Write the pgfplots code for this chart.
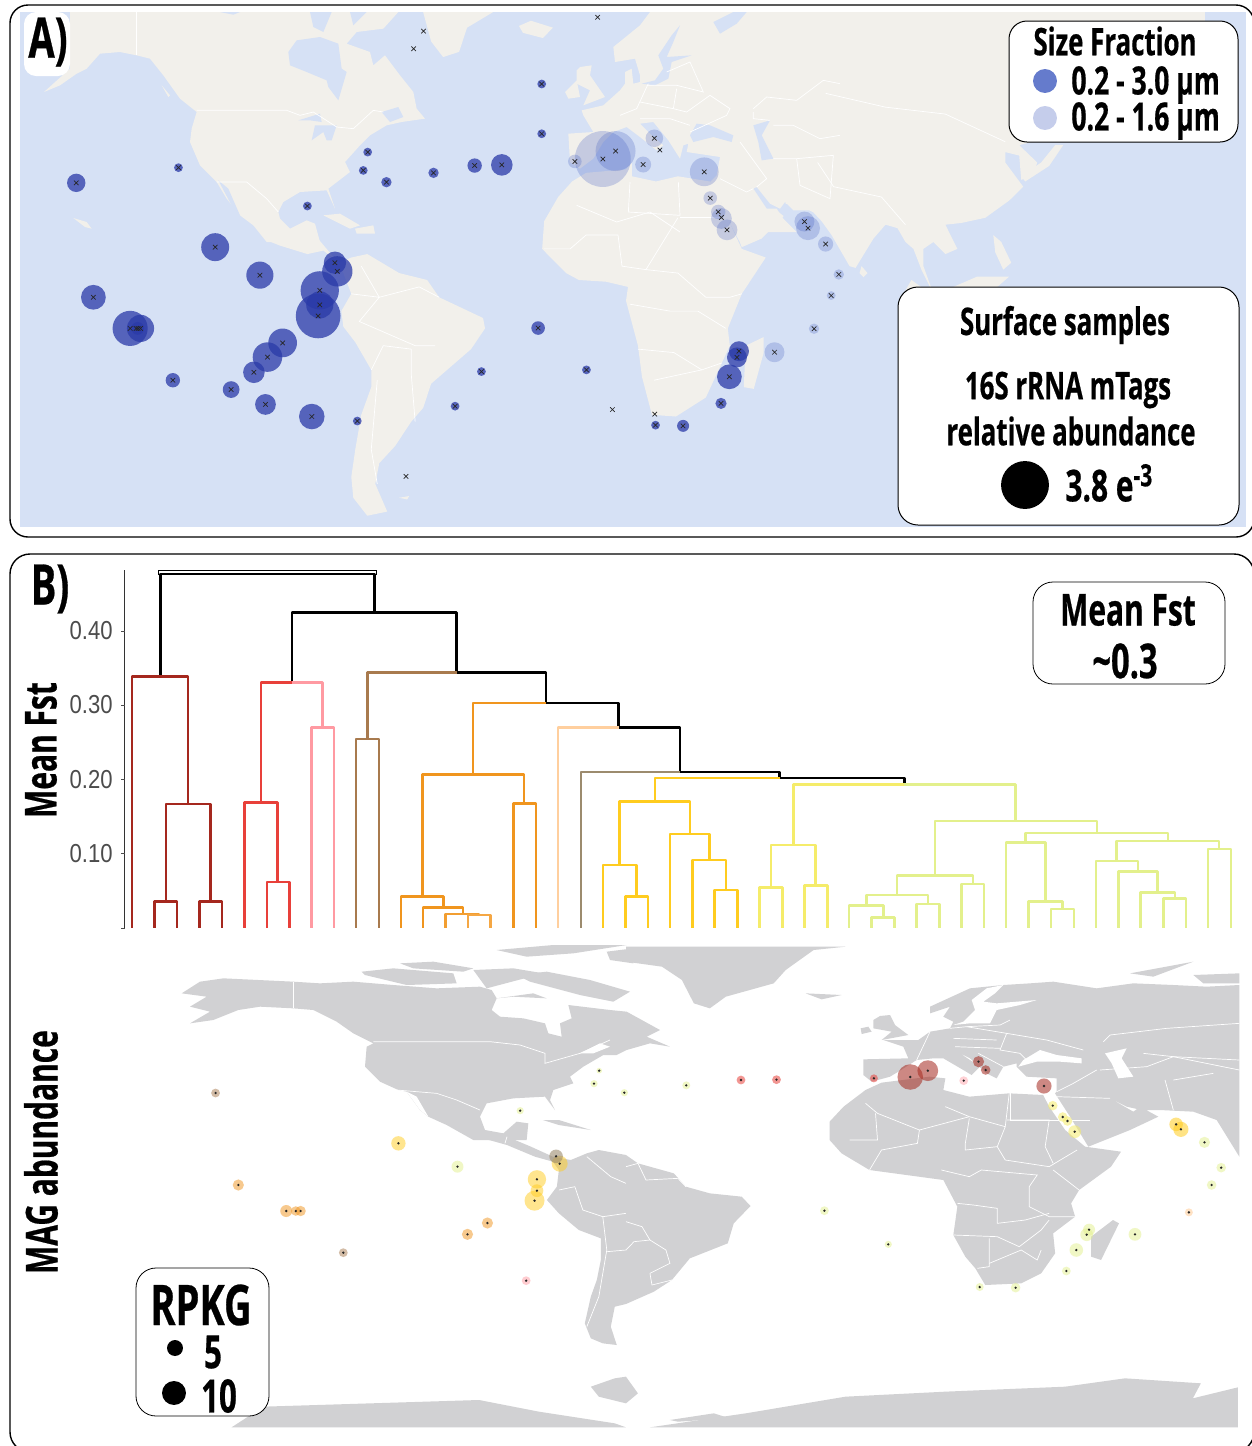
\documentclass[border=0pt]{standalone}
\usepackage{pgfplots}
\usepackage{fontspec}
\pgfplotsset{compat=1.18}
\setmainfont{Liberation Sans}
\newfontfamily\cond{Open Sans}[FakeStretch=0.68,BoldFeatures={FakeBold=0.5}]
\newfontfamily\tickf{Liberation Sans}[FakeStretch=0.85]
\newcommand\T[1]{\fontsize{#1}{#1}\selectfont\cond\bfseries}
\pgfdeclareplotmark{fillc}{\pgfpathcircle{\pgfpointorigin}{\pgfplotmarksize}\pgfusepathqfill}
\tikzset{every node/.append style={inner sep=0pt}}
\definecolor{seaA}{HTML}{D6E1F5}
\definecolor{landA}{HTML}{F2F0EB}
\definecolor{landB}{HTML}{D1D1D3}
\definecolor{dkblue}{HTML}{2A3AA8}
\definecolor{ltblue}{HTML}{3F5BC0}
\definecolor{cDR}{HTML}{A5281E}
\definecolor{cR}{HTML}{E8403A}
\definecolor{cP}{HTML}{FF9AA2}
\definecolor{cBr}{HTML}{A87A4E}
\definecolor{cO}{HTML}{F0951E}
\definecolor{cLO}{HTML}{FFCF9E}
\definecolor{cTa}{HTML}{9C8B6E}
\definecolor{cG}{HTML}{FFCC1F}
\definecolor{cY}{HTML}{F5EC6A}
\definecolor{cYG}{HTML}{E3F08C}
\pgfplotsset{
  mA/.style={x filter/.expression={x/2.505},y filter/.expression={y/2.893}},
  mAr/.style={x filter/.expression={626+x/2.505},y filter/.expression={y/2.893}},
  mB/.style={x filter/.expression={x/2.505},y filter/.expression={930+y/3}},
  mBr/.style={x filter/.expression={626+x/2.505},y filter/.expression={930+y/3}},
  dL/.style={x filter/.expression={x/2.505},y filter/.expression={555+y/3}},
  dR/.style={x filter/.expression={626+x/2.505},y filter/.expression={555+y/3}},
  cA4/.style={x filter/.expression={20+x/3},y filter/.expression={12+y/3}},
  cA1/.style={x filter/.expression={540+x/3},y filter/.expression={12+y/3}},
  cB2/.style={x filter/.expression={840+x/3},y filter/.expression={960+y/3}},
  cB3/.style={x filter/.expression={180+x/3},y filter/.expression={940+y/3}},
  la/.style={fill=landA,draw=none,forget plot},
  wa/.style={fill=seaA,draw=none,forget plot},
  lb/.style={fill=landB,draw=none,forget plot},
  wb/.style={fill=white,draw=none,forget plot},
  bd/.style={draw=white,line width=.35pt,forget plot},
  bub/.style 2 args={scatter,only marks,mark=fillc,scatter src=x,forget plot,
    visualization depends on={\thisrow{r}*0.1996 \as \rad},
    scatter/use mapped color={fill=#1,fill opacity=#2},
    scatter/@pre marker code/.append style={/tikz/mark size=\rad}},
  crs/.style={only marks,mark=x,mark size=1.6pt,forget plot,mark options={draw=black!85,line width=.35pt}},
  dot/.style={only marks,mark=fillc,mark size=.65pt,forget plot,mark options={fill=black!85}},
  den/.style={line width=1.3pt,forget plot,line join=round},
}
\newcommand\U[6]{\addplot[den,#1] coordinates {(#2,#3)(#2,#4)(#5,#4)(#5,#6)};}
\begin{document}
\begin{tikzpicture}
\path[use as bounding box] (0,0) rectangle (626pt,723pt);
\clip (0,0) rectangle (626pt,723pt);
\begin{axis}[at={(0,0)},anchor=south west,scale only axis,width=626pt,height=723pt,
  xmin=0,xmax=1252,ymin=0,ymax=1446,y dir=reverse,hide axis,clip=false]

% panel frames
\draw[fill=white,line width=.7pt,rounded corners=9pt] (axis cs:10,5) rectangle (axis cs:1254,537);
\draw[fill=white,line width=.7pt,rounded corners=10pt] (axis cs:10,554) rectangle (axis cs:1254,1452);
\addplot[fill=seaA,draw=none,forget plot] coordinates {(20,12)(1246,12)(1246,527)(20,527)} --cycle;

%% MAP A
% North America
\addplot[la,cA4] coordinates {(72,240)(120,220)(170,185)(200,170)(240,125)(300,120)(350,130)(390,140)(430,190)(480,260)(530,300)(515,350)(510,390)(540,460)(590,510)(620,560)(660,610)(700,640)(740,690)(900,690)(885,635)(860,625)(810,650)(780,620)(775,600)(790,570)(840,540)(920,535)(945,590)(925,530)(990,480)(975,450)(1020,400)(1050,370)(1100,340)(1145,330)(1215,320)(1190,290)(1180,240)(1140,190)(1095,130)(1060,160)(1050,120)(980,95)(1010,60)(1090,50)(1135,0)(150,0)(150,170)} --cycle;
\addplot[wa,cA4] coordinates {(810,160)(805,120)(830,85)(900,75)(955,95)(965,170)(980,180)(955,265)(925,225)(920,205)(860,180)} --cycle;
\addplot[wa,cA4] coordinates {(870,0)(935,0)(910,60)(880,45)} --cycle;
\addplot[wa,cA4] coordinates {(990,0)(1040,0)(1000,40)} --cycle;
\addplot[wa,cA4] coordinates {(600,0)(660,0)(640,8)} --cycle;
\addplot[wa,cA4] coordinates {(835,325)(900,305)(905,330)(870,325)} --cycle;
\addplot[wa,cA4] coordinates {(875,385)(885,340)(950,340)(935,385)(920,385)(910,360)} --cycle;
\addplot[wa,cA4] coordinates {(1085,300)(1135,285)(1150,315)(1110,330)} --cycle;
\addplot[wa,cA4] coordinates {(595,505)(625,530)(660,610)(640,590)} --cycle;
\addplot[la,cA4] coordinates {(910,610)(960,605)(1020,640)(990,650)} --cycle;
\addplot[la,cA4] coordinates {(1005,650)(1060,640)(1065,665)(1010,665)} --cycle;
\addplot[la,cA4] coordinates {(160,618)(200,630)(215,650)(195,645)} --cycle;
\addplot[la,cA4] coordinates {(425,220)(450,250)(445,255)} --cycle;
% Central and South America
\addplot[la,mA] coordinates {(668,695)(700,710)(770,735)(810,725)(850,760)(880,745)(920,735)(1000,790)(1070,810)(1100,860)(1210,920)(1215,950)(1180,1010)(1130,1060)(1080,1110)(1060,1180)(1030,1220)(990,1290)(950,1340)(940,1400)(970,1480)(920,1492)(885,1440)(880,1380)(890,1300)(905,1200)(930,1120)(930,1070)(890,990)(860,945)(855,900)(880,850)(860,790)(840,750)(800,695)} --cycle;
\addplot[la,mA] coordinates {(1060,35)(1235,35)(1170,80)(1150,150)(1110,165)(1080,120)} --cycle;
\addplot[la,mA] coordinates {(1300,75)(1330,60)(1385,80)(1360,110)(1310,95)} --cycle;
\addplot[la,mA] coordinates {(1000,1440)(1025,1435)(1020,1445)} --cycle;
% Europe, west Asia
\addplot[la,cA1] coordinates {(330,0)(300,40)(220,105)(225,150)(285,140)(300,190)(300,210)(280,215)(275,170)(255,180)(255,215)(240,235)(190,280)(125,295)(130,310)(160,360)(85,365)(90,450)(120,470)(160,440)(190,390)(220,360)(260,345)(300,375)(350,415)(370,400)(340,375)(300,335)(340,330)(385,385)(420,440)(430,400)(445,395)(440,420)(540,435)(530,490)(510,510)(570,620)(600,660)(770,660)(730,620)(710,590)(680,590)(640,530)(650,525)(690,575)(720,590)(735,570)(760,595)(840,595)(885,625)(900,660)(900,0)} --cycle;
\addplot[wa,cA1] coordinates {(520,30)(580,0)(620,0)(590,35)(540,65)} --cycle;
\addplot[wa,cA1] coordinates {(855,20)(900,0)(880,30)} --cycle;
\addplot[wa,cA1] coordinates {(450,370)(470,335)(510,340)(580,370)(575,390)(520,375)(460,390)} --cycle;
\addplot[wa,cA1] coordinates {(640,340)(690,325)(665,370)(700,440)(665,445)(655,390)} --cycle;
\addplot[wa,cA1] coordinates {(305,215)(345,205)(370,170)(355,130)(395,70)(420,40)(400,90)(380,135)(455,130)(395,150)(385,200)(345,220)} --cycle;
\addplot[la,cA1] coordinates {(110,175)(120,165)(155,160)(150,190)(195,255)(130,280)(150,235)(110,215)} --cycle;
\addplot[la,cA1] coordinates {(75,240)(110,205)(120,255)(85,260)} --cycle;
% Asia
\addplot[la,mAr] coordinates {(500,35)(1450,35)(1450,80)(1300,250)(1120,250)(1050,400)(985,420)(1030,470)(1020,510)(990,520)(985,450)(950,440)(950,470)(995,540)(960,580)(900,630)(840,645)(800,650)(830,720)(800,735)(770,700)(745,720)(745,770)(770,850)(740,780)(720,720)(700,700)(680,660)(650,650)(620,690)(575,775)(560,770)(515,680)(490,640)(470,615)(430,590)(400,590)(400,400)} --cycle;
\addplot[la,mAr] coordinates {(235,590)(285,700)(290,715)(340,690)(395,625)(378,610)(350,610)(320,560)} --cycle;
% Africa
\addplot[la,mAr] coordinates {(-135,525)(-100,500)(0,490)(15,470)(15,510)(75,525)(130,510)(210,525)(225,545)(250,620)(290,720)(350,745)(290,850)(255,950)(260,1000)(240,1050)(200,1150)(125,1205)(65,1200)(40,1090)(30,1000)(0,870)(5,830)(-50,815)(-118,810)(-150,790)(-210,720)(-205,640)(-170,570)} --cycle;
\addplot[la,mAr] coordinates {(345,975)(300,1000)(295,1120)(320,1125)(345,1020)} --cycle;
\addplot[la,mAr] coordinates {(590,770)(605,790)(595,802)(585,790)} --cycle;
\addplot[la,mAr] coordinates {(1000,525)(1060,480)(1095,420)(1075,420)(1040,470)(990,510)} --cycle;
\addplot[la,mAr] coordinates {(920,680)(940,700)(965,760)(945,780)(925,730)} --cycle;
\addplot[la,mAr] coordinates {(715,810)(775,860)(690,860)} --cycle;
\addplot[la,mAr] coordinates {(820,830)(880,800)(960,800)(900,860)(820,860)} --cycle;
% borders A
\addplot[bd,cA4] coordinates {(350,0)(350,130)};
\addplot[bd,cA4] coordinates {(530,295)(800,295)(840,310)(880,300)(950,345)(1000,350)(1060,295)(1090,300)};
\addplot[bd,cA4] coordinates {(590,510)(680,510)(740,560)(775,600)};
\addplot[bd,mA] coordinates {(905,770)(950,860)(1050,830)(1100,860)};
\addplot[bd,mA] coordinates {(880,850)(950,860)(900,930)(960,960)(1040,1000)(1090,1000)};
\addplot[bd,mA] coordinates {(930,1070)(960,1000)(1030,1010)(1030,1080)(1040,1220)};
\addplot[bd,mA] coordinates {(945,1100)(930,1300)(945,1400)};
\addplot[bd,cA1] coordinates {(240,310)(290,290)(320,225)(325,215)};
\addplot[bd,cA1] coordinates {(300,270)(400,290)(440,300)(510,250)(570,290)(560,310)(450,360)};
\addplot[bd,cA1] coordinates {(320,220)(410,220)(490,240)(450,150)(380,180)};
\addplot[bd,cA1] coordinates {(400,290)(410,230)};
\addplot[bd,cA1] coordinates {(300,320)(390,320)(450,340)};
\addplot[bd,cA1] coordinates {(640,290)(680,255)(770,265)(850,205)(900,215)};
\addplot[bd,cA1] coordinates {(640,300)(640,320)(690,325)};
\addplot[bd,cA1] coordinates {(700,340)(760,340)(840,380)(900,370)};
\addplot[bd,cA1] coordinates {(700,440)(770,440)(880,430)(870,560)(780,520)(770,440)};
\addplot[bd,cA1] coordinates {(600,390)(680,500)(650,525)};
\addplot[bd,cA1] coordinates {(540,500)(620,540)(640,530)};
\addplot[bd,cA1] coordinates {(270,510)(265,600)(420,610)(415,510)};
\addplot[bd,cA1] coordinates {(110,580)(230,630)(330,600)(420,660)};
\addplot[bd,mAr] coordinates {(-205,720)(-140,720)(-100,680)(-20,680)(-10,770)(50,780)(130,630)};
\addplot[bd,mAr] coordinates {(135,630)(240,630)};
\addplot[bd,mAr] coordinates {(50,780)(130,790)(200,860)(260,860)(290,850)};
\addplot[bd,mAr] coordinates {(10,880)(110,900)(180,900)(250,950)};
\addplot[bd,mAr] coordinates {(30,1010)(120,1020)(190,1070)(240,1050)};
\addplot[bd,mAr] coordinates {(70,1100)(150,1080)(190,1070)};
\addplot[bd,mAr] coordinates {(500,270)(650,310)(800,330)(950,410)};
\addplot[bd,mAr] coordinates {(480,470)(520,540)(640,570)(700,650)};

% bubbles A
\addplot[bub={dkblue}{0.75},mA] table[row sep=\\]{x y r\\
191 529 23\\ 447 485 11\\ 539 715 35\\ 651 796 34\\ 234 860 31\\ 326 950 44\\ 352 950 34\\ 345 950 16\\
839 760 28\\ 845 785 38\\ 801 840 48\\ 801 882 34\\ 797 914 56\\ 708 992 36\\ 670 1033 37\\ 636 1077 27\\
433 1100 18\\ 579 1127 21\\ 665 1170 26\\ 781 1205 32\\ 895 1218 11\\ 1140 1175 11\\ 1206 1075 11\\ 1348 949 17\\
1469 1070 11\\ 770 596 11\\ 921 440 11\\ 910 493 11\\ 968 527 13\\ 1086 500 13\\ 1189 479 18\\ 1257 477 27\\
1357 243 11\\ 1357 387 11\\};
\addplot[bub={dkblue}{0.75},mAr] table[row sep=\\]{x y r\\
283 1016 25\\ 278 1034 25\\ 259 1090 31\\ 238 1167 14\\ 74 1230 11\\ 143 1232 15\\};
\addplot[bub={ltblue}{0.25},mA] table[row sep=\\]{x y r\\
1440 467 17\\ 1510 460 70\\ 1542 437 50\\};
\addplot[bub={ltblue}{0.25},mAr] table[row sep=\\]{x y r\\
71 400 22\\ 85 434 4\\ 43 476 20\\ 196 497 36\\ 211 573 17\\ 231 613 18\\ 239 632 26\\ 253 665 26\\
447 641 25\\ 456 660 30\\ 500 706 19\\ 533 794 13\\ 514 855 11\\ 471 951 13\\ 372 1019 25\\};
\addplot[crs,mA] coordinates {(191,529)(447,485)(539,715)(651,796)(234,860)(326,950)(352,950)(341,950)(346,950)
(839,760)(845,785)(801,840)(801,882)(797,914)(708,992)(670,1033)(636,1077)(433,1100)(579,1127)(665,1170)(781,1205)(895,1218)(1140,1175)(1206,1075)(1348,949)(1469,1070)(770,596)(921,440)(910,493)(968,527)(1086,500)(1189,479)(1257,477)(1357,243)(1357,387)(1440,467)(1510,460)(1542,437)(1497,50)(1061,90)(1036,141)(1017,1378)(1534,1185)};
\addplot[crs,mAr] coordinates {(283,1016)(278,1034)(259,1090)(238,1167)(74,1230)(143,1232)(72,1198)(71,400)(85,434)(43,476)(196,497)(211,573)(231,613)(239,629)(253,665)(447,641)(456,660)(500,706)(533,794)(514,855)(471,951)(372,1019)};

% A labels
\draw[fill=white,draw=none,rounded corners=6pt] (axis cs:24,12) rectangle (axis cs:70,76);
\node at (axis cs:48,42) {\T{28}A)};
\draw[fill=white,line width=.5pt,rounded corners=9pt] (axis cs:1009,21) rectangle (axis cs:1238,142);
\node at (axis cs:1115,41) {\T{19}Size Fraction};
\node[anchor=west] at (axis cs:1071,85) {\T{19.5}0.2 - 3.0 µm};
\node[anchor=west] at (axis cs:1071,121) {\T{19.5}0.2 - 1.6 µm};
\addplot[bub={ltblue}{0.8},forget plot] table[row sep=\\]{x y r\\ 1045 81 30\\};
\addplot[bub={ltblue}{0.3},forget plot] table[row sep=\\]{x y r\\ 1045 118 30\\};
\draw[fill=white,line width=.5pt,rounded corners=10pt] (axis cs:898,287) rectangle (axis cs:1239,525);
\node at (axis cs:1065,325) {\T{19}Surface samples};
\node at (axis cs:1068,390) {\T{19}16S rRNA mTags};
\node at (axis cs:1071,431) {\T{19}relative abundance};
\addplot[bub={black}{1},forget plot] table[row sep=\\]{x y r\\ 1025 485 60\\};
\node[anchor=west] at (axis cs:1065,483) {\T{22}3.8 e\textsuperscript{-3}};

%% DENDROGRAM
\node at (axis cs:50,589) {\T{28}B)};
\addplot[forget plot,draw=black!80,line width=.3pt] coordinates {(124.5,570)(124.5,928)};
\addplot[forget plot,draw=black!70,line width=.3pt] coordinates {(121,631)(124.5,631)};
\addplot[forget plot,draw=black!70,line width=.3pt] coordinates {(121,705)(124.5,705)};
\addplot[forget plot,draw=black!70,line width=.3pt] coordinates {(121,779)(124.5,779)};
\addplot[forget plot,draw=black!70,line width=.3pt] coordinates {(121,853)(124.5,853)};
\addplot[forget plot,draw=black!70,line width=.3pt] coordinates {(121,928)(124.5,928)};
\node[anchor=east,text=black!70] at (axis cs:113,631) {\fontsize{13}{13}\selectfont\tickf 0.40};
\node[anchor=east,text=black!70] at (axis cs:113,705) {\fontsize{13}{13}\selectfont\tickf 0.30};
\node[anchor=east,text=black!70] at (axis cs:113,780) {\fontsize{13}{13}\selectfont\tickf 0.20};
\node[anchor=east,text=black!70] at (axis cs:113,854) {\fontsize{13}{13}\selectfont\tickf 0.10};
\node[rotate=90] at (axis cs:41,750) {\T{22}Mean Fst};
\node[rotate=90] at (axis cs:41,1152) {\T{22}MAG abundance};

\addplot[forget plot,draw=black,line width=.5pt,dL] coordinates {(397,60)(397,47)(942,47)(942,60)};
\U{black,line width=1.45pt,dL}{401}{365}{57}{938}{170}
\U{black,dL}{731}{382}{172}{1144}{352}
\U{cDR,dL}{331}{1118}{365}{471}{747}
\U{cDR,dL}{416}{1038}{747}{527}{1038}
\U{cDR,dL}{387}{1118}{1040}{443}{1118}
\U{cDR,dL}{499}{1118}{1040}{556}{1118}
\U{cP,dL}{731}{382}{382}{808}{517}
\U{cR,dL}{731}{382}{382}{654}{743}
\U{cR,dL}{613}{1118}{743}{695}{980}
\U{cR,dL}{669}{1118}{981}{725}{1118}
\U{cP,dL}{780}{1118}{517}{837}{1118}
\U{cBr,dL}{1144}{352}{352}{921}{552}
\U{cBr,dL}{892}{1118}{552}{949}{1118}
\U{black,dL}{1144}{352}{352}{1368}{444}
\addplot[den,black,dL] coordinates {(1368,444)(1550,444)(1550,518)(1568,518)};
\addplot[den,black,dR] coordinates {(0,518)(135,518)(135,651)(385,651)(385,669)(697,669)(697,689)};
\U{cO,dL}{1368}{444}{444}{1185}{658}
\U{cO,dL}{1058}{1024}{658}{1313}{745}
\U{cO,dL}{1286}{1118}{745}{1343}{1118}
\U{cO,dL}{1004}{1118}{1024}{1111}{1058}
\U{cO,dL}{1060}{1118}{1058}{1160}{1077}
\U{cO!85!cLO,dL}{1116}{1118}{1077}{1200}{1080}
\U{cO!70!cLO,dL}{1172}{1118}{1080}{1229}{1118}
\addplot[den,cLO,dL] coordinates {(1550,518)(1398,518)(1398,1118)};
\addplot[den,cTa,dR] coordinates {(135,651)(-113,651)(-113,1118)};
\U{cG,dR}{385}{669}{669}{73}{740}
\U{cG,dR}{-16}{930}{740}{160}{837}
\U{cG,dR}{-58}{1118}{930}{27}{1022}
\U{cG,dR}{-2}{1118}{1024}{55}{1118}
\U{cG,dR}{110}{1118}{837}{209}{915}
\U{cG,dR}{166}{1118}{915}{250}{1005}
\U{cG,dR}{222}{1118}{1005}{280}{1118}
\U{cY,dR}{697}{689}{689}{419}{870}
\U{cY,dR}{363}{997}{870}{475}{992}
\U{cY,dR}{334}{1118}{997}{392}{1118}
\U{cY,dR}{447}{1118}{992}{504}{1118}
\U{cYG,dR}{697}{689}{689}{976}{798}
\U{cYG,dR}{774}{962}{798}{1180}{834}
\U{cYG,dR}{679}{1020}{962}{869}{987}
\U{cYG,dR}{602}{1052}{1020}{756}{1046}
\U{cYG,dR}{559}{1118}{1052}{645}{1088}
\U{cYG,dR}{615}{1118}{1088}{673}{1118}
\U{cYG,dR}{727}{1118}{1047}{785}{1118}
\U{cYG,dR}{840}{1118}{987}{897}{1118}
\U{cYG,dR}{1000}{860}{834}{1358}{858}
\U{cYG,dR}{952}{1118}{862}{1051}{1040}
\U{cYG,dR}{1008}{1118}{1040}{1094}{1060}
\U{cYG,dR}{1065}{1118}{1062}{1122}{1118}
\U{cYG,dR}{1229}{918}{858}{1485}{882}
\U{cYG,dR}{1177}{1118}{918}{1283}{950}
\U{cYG,dR}{1233}{1118}{950}{1332}{1012}
\U{cYG,dR}{1289}{1118}{1012}{1375}{1031}
\U{cYG,dR}{1346}{1118}{1031}{1403}{1118}
\U{cYG,dR}{1458}{1118}{882}{1515}{1118}

\draw[fill=white,line width=.4pt,rounded corners=10pt] (axis cs:1033,582) rectangle (axis cs:1225,684);
\node at (axis cs:1128,610) {\T{22}Mean Fst};
\node at (axis cs:1125,661) {\T{24}\textasciitilde 0.3};

%% MAP B
% North America
\addplot[lb,cB3] coordinates {(5,160)(60,125)(130,115)(340,125)(420,130)(520,125)(640,135)(770,145)(900,140)(935,150)(950,175)(935,210)(960,230)(1030,235)(1095,250)(1105,280)(1145,290)(1140,250)(1175,235)(1165,195)(1290,210)(1340,215)(1440,270)(1400,290)(1470,320)(1410,310)(1340,330)(1310,345)(1270,345)(1210,380)(1170,410)(1180,430)(1120,450)(1110,480)(1125,510)(1095,470)(1000,475)(920,490)(900,530)(915,570)(970,580)(1010,545)(1045,550)(1040,600)(880,600)(800,555)(745,530)(720,510)(680,455)(655,450)(600,425)(555,380)(560,320)(580,310)(520,280)(470,245)(400,210)(340,205)(240,200)(175,210)(100,240)(30,250)(90,215)(30,200)(80,170)} --cycle;
\addplot[wb,cB3] coordinates {(680,455)(710,470)(745,530)(720,510)} --cycle;
\addplot[wb,cB3] coordinates {(1200,340)(1260,310)(1290,320)(1240,340)} --cycle;
\addplot[lb,cB3] coordinates {(545,95)(640,85)(820,100)(830,130)(680,135)(555,105)} --cycle;
\addplot[lb,cB3] coordinates {(660,70)(760,65)(880,85)(850,95)(700,85)} --cycle;
\addplot[lb,cB3] coordinates {(880,90)(1000,85)(1090,100)(920,145)} --cycle;
\addplot[lb,cB3] coordinates {(950,30)(1120,15)(1340,15)(1180,40)(1040,50)} --cycle;
\addplot[lb,cB3] coordinates {(1010,105)(1100,95)(1230,120)(1350,155)(1300,185)(1200,165)(1050,125)} --cycle;
\addplot[lb,cB3] coordinates {(1280,35)(1360,25)(1360,70)(1290,60)} --cycle;
\addplot[lb,cB3] coordinates {(950,175)(1060,160)(1100,175)(1000,170)} --cycle;
% Central and South America
\addplot[lb,mB] coordinates {(1200,615)(1310,615)(1290,630)(1330,650)(1385,680)(1430,690)(1470,670)(1500,660)(1568,675)(1598,700)(1628,710)(1688,730)(1718,770)(1778,790)(1858,800)(1880,828)(1838,880)(1823,940)(1728,985)(1683,1050)(1638,1085)(1568,1122)(1540,1130)(1530,1190)(1545,1245)(1510,1240)(1480,1225)(1465,1180)(1480,1100)(1495,1050)(1505,990)(1505,925)(1450,900)(1400,850)(1370,810)(1395,770)(1400,720)(1385,695)(1340,680)(1270,645)(1210,625)} --cycle;
\addplot[lb,mB] coordinates {(1360,570)(1400,570)(1480,600)(1400,585)} --cycle;
\addplot[lb,mBr] coordinates {(0,50)(550,50)(470,60)(400,120)(370,160)(250,200)(210,235)(170,220)(140,150)(90,110)(0,95)} --cycle;
\addplot[lb,mBr] coordinates {(450,190)(540,195)(490,208)} --cycle;
\addplot[lb,cB2] coordinates {(100,180)(120,168)(150,165)(165,195)(205,225)(125,240)(155,215)(100,205)} --cycle;
\addplot[lb,cB2] coordinates {(62,205)(85,200)(95,215)(65,222)} --cycle;
\addplot[lb,cB2] coordinates {(870,40)(1060,5)(940,50)} --cycle;
\addplot[lb,cB2] coordinates {(1060,45)(1198,40)(1198,70)(1090,70)} --cycle;
% Eurasia B
\addplot[lb,cB2] coordinates {(70,298)(70,345)(95,365)(150,350)(175,335)(230,300)(280,295)(310,295)(370,330)(395,345)(420,320)(360,280)(390,295)(440,340)(470,355)(490,320)(530,310)(530,320)(560,350)(650,355)(650,395)(645,400)(690,470)(745,560)(870,510)(955,470)(900,440)(880,455)(810,415)(860,440)(905,450)(960,450)(1060,455)(1130,480)(1198,590)(1198,75)(1100,80)(1000,75)(880,70)(770,85)(640,65)(570,70)(490,75)(390,85)(270,140)(270,160)(330,140)(310,170)(340,185)(330,205)(270,215)(235,240)(130,240)(190,260)(205,295)} --cycle;
\addplot[wb,cB2] coordinates {(340,195)(370,185)(405,150)(395,120)(440,85)(490,75)(465,100)(430,125)(470,130)(590,120)(540,135)(470,150)(450,190)(390,190)} --cycle;
\addplot[wb,cB2] coordinates {(550,300)(600,270)(650,285)(725,295)(725,310)(660,305)(590,305)(535,320)} --cycle;
\addplot[wb,cB2] coordinates {(795,280)(860,265)(845,295)(880,350)(835,355)(815,310)} --cycle;
% Africa B
\addplot[lb,mBr] coordinates {(510,575)(545,530)(600,480)(640,458)(760,440)(800,445)(795,480)(860,500)(960,490)(1045,495)(1060,530)(1100,600)(1150,650)(1240,665)(1215,710)(1135,780)(1115,820)(1125,860)(1070,910)(1075,970)(1040,1030)(990,1060)(900,1065)(875,1015)(850,980)(820,915)(830,830)(795,750)(610,720)(540,670)(510,630)} --cycle;
\addplot[lb,mBr] coordinates {(1235,880)(1220,870)(1165,920)(1165,980)(1190,990)} --cycle;
% Antarctica B
\addplot[lb,mB] coordinates {(580,1492)(660,1430)(1200,1410)(1350,1445)(1540,1480)(1568,1492)} --cycle;
\addplot[lb,mB] coordinates {(1480,1370)(1540,1345)(1568,1340)(1598,1390)(1568,1420)(1500,1400)} --cycle;
\addplot[lb,mBr] coordinates {(60,1492)(300,1450)(550,1400)(800,1385)(1100,1370)(1250,1345)(1440,1360)(1420,1405)(1533,1372)(1533,1492)} --cycle;
\addplot[lb,mBr] coordinates {(110,1470)(220,1450)(260,1465)(130,1475)} --cycle;
% borders B
\addplot[bd,cB3] coordinates {(340,125)(340,205)};
\addplot[bd,cB3] coordinates {(580,305)(930,305)(1020,315)(1095,340)(1095,370)(1200,340)(1290,300)};
\addplot[bd,cB3] coordinates {(650,450)(770,460)(830,480)(900,510)};
\addplot[bd,mB] coordinates {(1270,620)(1265,640)};
\addplot[bd,mB] coordinates {(1470,680)(1530,740)(1568,760)};
\addplot[bd,mB] coordinates {(1400,780)(1440,770)(1460,840)(1510,860)(1568,850)};
\addplot[bd,mB] coordinates {(1510,860)(1520,960)(1500,1100)(1470,1190)};
\addplot[bd,mBr] coordinates {(0,875)(40,890)(60,930)(20,935)(0,960)(-48,965)};
\addplot[bd,mBr] coordinates {(60,1030)(110,1000)(100,960)(60,930)};
\addplot[bd,mBr] coordinates {(60,1030)(65,1065)(115,1050)};
\addplot[bd,mBr] coordinates {(0,710)(30,700)(50,750)(130,745)(150,770)};
\addplot[bd,mBr] coordinates {(600,520)(630,550)(735,600)(860,560)(950,590)(960,490)};
\addplot[bd,mBr] coordinates {(625,550)(630,630)(560,630)};
\addplot[bd,mBr] coordinates {(735,600)(730,640)(640,660)(610,720)};
\addplot[bd,mBr] coordinates {(860,565)(850,640)(850,660)(930,650)(950,590)};
\addplot[bd,mBr] coordinates {(930,650)(950,690)(1060,710)(1130,660)};
\addplot[bd,mBr] coordinates {(800,530)(860,560)};
\addplot[bd,mBr] coordinates {(955,570)(1060,570)(1050,650)(1070,700)};
\addplot[bd,mBr] coordinates {(790,720)(860,740)(890,720)(1030,735)(1010,770)(1010,830)(1060,860)(1125,860)};
\addplot[bd,mBr] coordinates {(830,820)(870,825)(930,835)(930,880)(1000,870)(1060,850)};
\addplot[bd,mBr] coordinates {(820,915)(930,920)(985,950)(1040,900)(1060,870)};
\addplot[bd,mBr] coordinates {(910,925)(910,1010)(880,1015)};
\addplot[bd,mBr] coordinates {(910,1000)(990,960)(1030,990)(1040,960)};
\addplot[bd,mBr] coordinates {(1070,720)(1135,780)};
\addplot[bd,cB2] coordinates {(230,300)(270,215)};
\addplot[bd,cB2] coordinates {(330,205)(380,200)(480,195)(510,180)};
\addplot[bd,cB2] coordinates {(380,200)(500,220)(620,240)(730,270)};
\addplot[bd,cB2] coordinates {(500,220)(480,270)(540,280)(560,300)};
\addplot[bd,cB2] coordinates {(340,235)(470,240)};
\addplot[bd,cB2] coordinates {(345,260)(480,265)};
\addplot[bd,cB2] coordinates {(415,280)(490,320)};
\addplot[bd,cB2] coordinates {(790,245)(810,225)(980,205)(1198,190)};
\addplot[bd,cB2] coordinates {(780,330)(920,320)(1000,290)(1198,300)};
\addplot[bd,cB2] coordinates {(910,280)(1000,290)(1198,330)};
\addplot[bd,cB2] coordinates {(975,360)(1000,450)};
\addplot[bd,cB2] coordinates {(1000,360)(1120,340)};
\addplot[bd,cB2] coordinates {(650,395)(700,370)(770,330)};
\addplot[bd,cB2] coordinates {(510,400)(510,480)(750,480)};
\addplot[bd,cB2] coordinates {(650,410)(810,415)};

% bubbles B
\addplot[bub={cBr}{0.5},mB] table[row sep=\\]{x y r\\ 540 489 11\\ 860 968 11\\};
\addplot[bub={cO}{0.5},mB] table[row sep=\\]{x y r\\ 597 765 14\\ 717 843 15\\ 741 843 12\\ 753 843 13\\ 1221 879 14\\ 1171 913 14\\};
\addplot[bub={cG}{0.5},mB] table[row sep=\\]{x y r\\ 998 640 18\\ 1345 748 23\\ 1345 782 16\\ 1339 812 25\\ 1402 701 20\\};
\addplot[bub={cTa}{0.6},mB] table[row sep=\\]{x y r\\ 1393 679 17\\};
\addplot[bub={cYG}{0.5},mB] table[row sep=\\]{x y r\\ 1146 710 15\\ 1303 542 9\\ 1501 422 7\\ 1488 461 9\\ 1564 488 9\\};
\addplot[bub={cP}{0.5},mB] table[row sep=\\]{x y r\\ 1318 1052 11\\};
\addplot[bub={cYG}{0.5},mBr] table[row sep=\\]{x y r\\ 151 466 10\\ 497 842 11\\ 657 943 9\\ 886 1071 10\\ 976 1073 12\\ 1103 1023 11\\ 1128 960 17\\ 1160 899 15\\ 1154 914 16\\ 1275 913 16\\ 1449 637 14\\ 1491 713 12\\ 1467 765 12\\};
\addplot[bub={cDR}{0.55},mBr] table[row sep=\\]{x y r\\ 712 441 32\\ 756 422 26\\ 883 395 14\\ 901 420 12\\ 1047 468 19\\};
\addplot[bub={cR}{0.55},mBr] table[row sep=\\]{x y r\\ 288 450 11\\ 377 449 11\\ 621 445 10\\};
\addplot[bub={cP}{0.45},mBr] table[row sep=\\]{x y r\\ 846 452 11\\};
\addplot[bub={cLO}{0.6},mBr] table[row sep=\\]{x y r\\ 1410 847 10\\};
\addplot[bub={cY}{0.55},mBr] table[row sep=\\]{x y r\\ 1069 527 12\\ 1094 561 12\\ 1106 573 12\\ 1124 605 16\\};
\addplot[bub={cG}{0.55},mBr] table[row sep=\\]{x y r\\ 1378 583 17\\ 1390 598 19\\};
\addplot[dot,mB] coordinates {(540,489)(860,968)(597,765)(717,843)(741,843)(753,843)(1221,879)(1171,913)(998,640)(1345,748)(1345,782)(1339,812)(1402,701)(1393,679)(1146,710)(1303,542)(1501,422)(1488,461)(1564,488)(1318,1052)};
\addplot[dot,mBr] coordinates {(151,466)(497,842)(657,943)(886,1071)(976,1073)(1103,1023)(1128,960)(1160,899)(1154,914)(1275,913)(1449,637)(1491,713)(1467,765)(712,441)(756,422)(883,395)(901,420)(1047,468)(288,450)(377,449)(621,445)(846,452)(1410,847)(1069,527)(1094,561)(1106,573)(1124,605)(1378,583)(1390,598)};

% RPKG
\draw[fill=white,line width=.4pt,rounded corners=10pt] (axis cs:136,1268) rectangle (axis cs:269,1416);
\node at (axis cs:201,1305) {\T{28}RPKG};
\addplot[bub={black}{1},forget plot] table[row sep=\\]{x y r\\ 175 1348 20\\};
\addplot[bub={black}{1},forget plot] table[row sep=\\]{x y r\\ 174 1393 30\\};
\node at (axis cs:213,1352) {\T{23}5};
\node at (axis cs:219,1396) {\T{23}10};
\end{axis}
\end{tikzpicture}
\end{document}
